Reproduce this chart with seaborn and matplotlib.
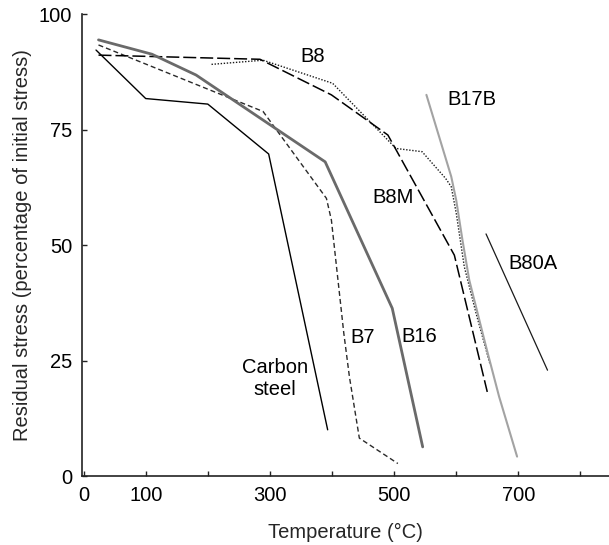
import matplotlib
matplotlib.use("Agg")
import matplotlib.pyplot as plt
import seaborn as sns
import pandas as pd

# Residual stress (% of initial) versus exposure temperature (°C)
carbon_x = [20, 100, 200, 298, 393]
carbon_y = [92.2, 81.7, 80.5, 69.7, 10.0]

b16_x = [24, 110, 181, 389, 497, 546]
b16_y = [94.4, 91.3, 86.8, 68.0, 36.3, 6.3]

b7_x = [24, 289, 391, 399, 419, 428, 444, 506]
b7_y = [93.3, 78.9, 60.1, 55.4, 30.9, 21.5, 8.2, 2.7]

b8m_x = [24, 284, 399, 490, 597, 650]
b8m_y = [91.1, 90.2, 82.5, 73.8, 47.8, 18.2]

b8_x = [206, 289, 401, 503, 545, 583, 592, 600, 613, 632, 654]
b8_y = [89.1, 90.0, 85.0, 70.9, 70.2, 64.4, 62.6, 56.9, 45.3, 35.2, 24.4]

b17b_x = [552, 592, 600, 610, 621, 648, 669, 698]
b17b_y = [82.5, 64.8, 59.7, 51.1, 42.4, 28.0, 17.2, 4.2]

b80a_x = [648, 747]
b80a_y = [52.4, 22.9]

x_ticks = [0, 100, 200, 300, 400, 500, 600, 700, 800]
x_tick_labels = ["0", "100", "", "300", "", "500", "", "700", ""]
y_ticks = [0, 25, 50, 75, 100]

sns.set_theme(style="white")
plt.rcParams["font.family"] = ["Liberation Sans", "DejaVu Sans"]
FS = 14.5

fig = plt.figure(figsize=(6.09, 5.45), dpi=100)
ax = fig.add_axes([0.1342, 0.1266, 0.8658, 0.8477])

series = [
    (carbon_x, carbon_y, dict(color="black", lw=1.0, linestyle="-")),
    (b7_x, b7_y, dict(color="#2a2a2a", lw=1.0, linestyle=(0, (3.6, 2.2)))),
    (b8_x, b8_y, dict(color="#1a1a1a", lw=1.0, linestyle=(0, (1.0, 1.2)))),
    (b8m_x, b8m_y, dict(color="black", lw=1.1, linestyle=(0, (8.5, 2.6)))),
    (b16_x, b16_y, dict(color="#6a6a6a", lw=2.0, linestyle="-")),
    (b17b_x, b17b_y, dict(color="#a3a3a3", lw=1.5, linestyle="-")),
    (b80a_x, b80a_y, dict(color="#1a1a1a", lw=0.9, linestyle="-")),
]
for xs, ys, style in series:
    df = pd.DataFrame({"t": xs, "s": ys})
    sns.lineplot(data=df, x="t", y="s", ax=ax, sort=False, estimator=None,
                 **style)

labels = [
    ("B8", 369, 90.8),
    ("B17B", 625, 81.6),
    ("B8M", 499, 60.3),
    ("B80A", 723, 46.0),
    ("B16", 541, 30.3),
    ("B7", 450, 30.0),
    ("Carbon\nsteel", 308, 21.1),
]
for txt, lx, ly in labels:
    ax.text(lx, ly, txt, fontsize=FS, ha="center", va="center",
            linespacing=1.15, color="black")

ax.set_xlim(-3, 846)
ax.set_ylim(0, 100)
ax.set_xticks(x_ticks)
ax.set_xticklabels(x_tick_labels)
ax.set_yticks(y_ticks)
ax.tick_params(axis="both", direction="in", length=3.5, width=1.0,
               colors="#222222", labelsize=FS, labelcolor="black", pad=7,
               bottom=True, left=True)

for side in ("top", "right"):
    ax.spines[side].set_visible(False)
for side in ("left", "bottom"):
    ax.spines[side].set_color("#222222")
    ax.spines[side].set_linewidth(1.2)

ax.set_xlabel("Temperature (\u00b0C)", fontsize=FS, labelpad=13)
ax.set_ylabel("Residual stress (percentage of initial stress)", fontsize=FS,
              labelpad=5)
ax.grid(False)

fig.savefig("out.png", dpi=100)
